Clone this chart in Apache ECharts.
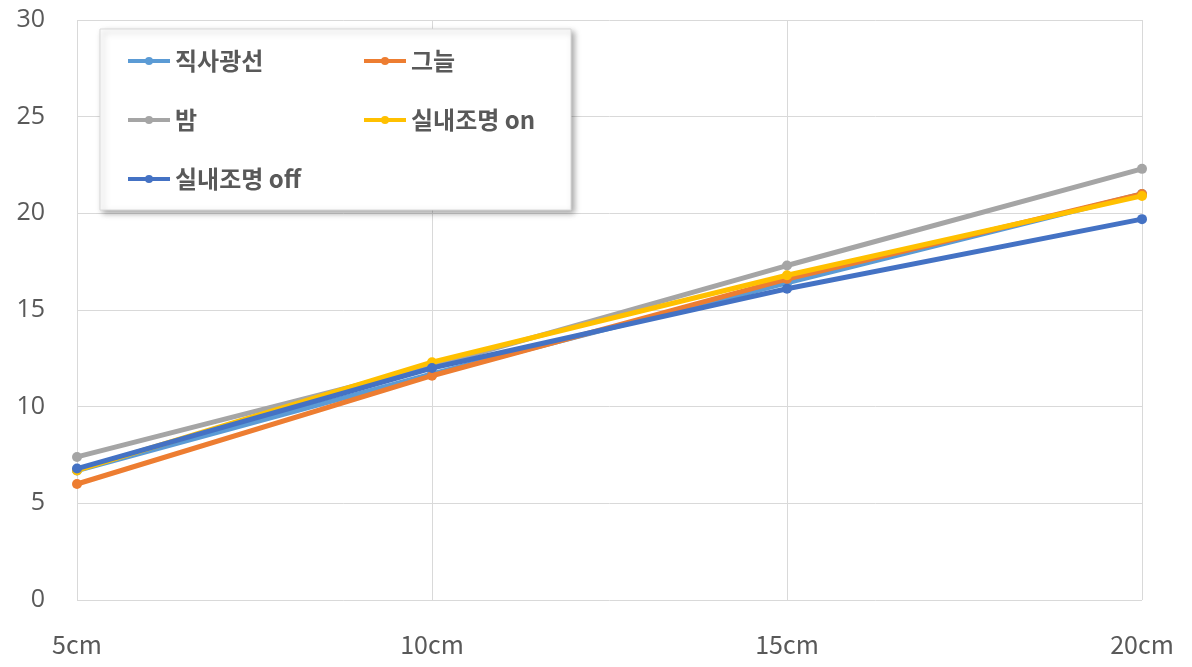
<!DOCTYPE html>
<html>
<head>
<meta charset="utf-8">
<script src="https://cdn.jsdelivr.net/npm/echarts@6/dist/echarts.min.js"></script>
<style>
  html, body { margin: 0; padding: 0; background: #fff; }
  #chart { width: 1192px; height: 667px; }
</style>
</head>
<body>
<div id="chart"></div>
<script>
// Distance categories and measured values per lighting condition
const categories = ['5cm', '10cm', '15cm', '20cm'];
const seriesNames = ['직사광선', '그늘', '밤', '실내조명 on', '실내조명 off'];
const direct   = [6.7, 11.7, 16.4, 21.0];   // 직사광선
const shade    = [6.0, 11.6, 16.6, 21.0];   // 그늘
const night    = [7.4, 12.1, 17.3, 22.3];   // 밤
const indoorOn = [6.7, 12.3, 16.8, 20.9];   // 실내조명 on
const indoorOff= [6.8, 12.0, 16.1, 19.7];   // 실내조명 off
const yTicks = { min: 0, max: 30, interval: 5 };

const colors = ['#5B9BD5', '#ED7D31', '#A5A5A5', '#FFC000', '#4472C4'];
const values = [direct, shade, night, indoorOn, indoorOff];

const chart = echarts.init(document.getElementById('chart'));

const legendText = {
  fontSize: 24, lineHeight: 24, fontWeight: 'bold', color: '#595959',
  fontFamily: '"Noto Sans CJK KR", sans-serif'
};
const legendBase = {
  orient: 'vertical', top: 44, itemGap: 35,
  itemWidth: 42, itemHeight: 10, textStyle: legendText,
  lineStyle: { width: 4 }, z: 60
};

chart.setOption({
  animation: false,
  color: colors,
  grid: { left: 77, right: 50, top: 20, bottom: 67 },
  graphic: [{
    type: 'rect',
    shape: { x: 100, y: 29, width: 471, height: 181 },
    style: {
      fill: '#fff', stroke: '#d9d9d9', lineWidth: 1,
      shadowBlur: 6, shadowOffsetX: 3, shadowOffsetY: 3, shadowColor: 'rgba(0,0,0,0.35)'
    },
    z: 50
  }],
  legend: [
    Object.assign({ data: ['직사광선', '밤', '실내조명 off'], left: 121 }, legendBase),
    Object.assign({ data: ['그늘', '실내조명 on'], left: 357 }, legendBase)
  ],
  xAxis: {
    type: 'category',
    data: categories,
    boundaryGap: false,
    axisLine: { show: false },
    axisTick: { show: false },
    splitLine: { show: true, lineStyle: { color: '#d9d9d9', width: 1 } },
    axisLabel: {
      fontSize: 25, color: '#595959', margin: 32,
      fontFamily: '"Noto Sans CJK KR", sans-serif'
    }
  },
  yAxis: {
    type: 'value',
    min: yTicks.min, max: yTicks.max, interval: yTicks.interval,
    axisLine: { show: false },
    axisTick: { show: false },
    splitLine: { lineStyle: { color: '#d9d9d9', width: 1 } },
    axisLabel: {
      fontSize: 25, color: '#595959', margin: 32,
      fontFamily: '"Open Sans", sans-serif'
    }
  },
  series: seriesNames.map((name, i) => ({
    name: name,
    type: 'line',
    data: values[i],
    symbol: 'circle',
    symbolSize: 10,
    lineStyle: { width: 5, color: colors[i] },
    itemStyle: { color: colors[i] },
    z: 2 + i
  }))
});
</script>
</body>
</html>
